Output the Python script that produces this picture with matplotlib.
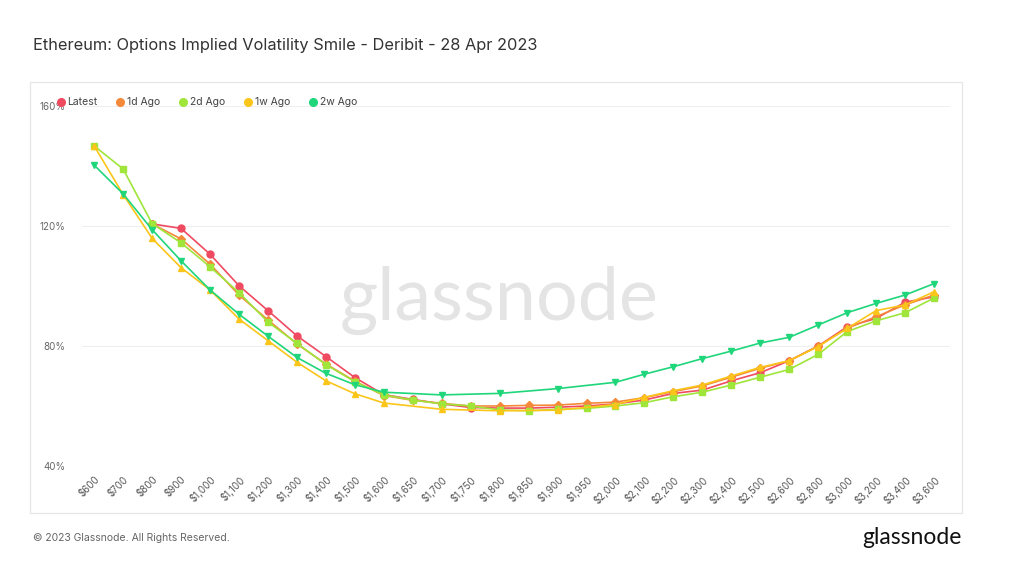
import matplotlib.pyplot as plt
import numpy as np
from matplotlib.lines import Line2D
from matplotlib.patches import Rectangle

plt.rcParams["font.family"] = ["Inter", "DejaVu Sans"]

strikes = ["$600", "$700", "$800", "$900", "$1,000", "$1,100", "$1,200", "$1,300",
           "$1,400", "$1,500", "$1,600", "$1,650", "$1,700", "$1,750", "$1,800",
           "$1,850", "$1,900", "$1,950", "$2,000", "$2,100", "$2,200", "$2,300",
           "$2,400", "$2,500", "$2,600", "$2,800", "$3,000", "$3,200", "$3,400", "$3,600"]

latest = [None, None, 120.7, 119.2, 110.6, 100.1, 91.8, 83.4, 76.5, 69.5, 63.8,
          62.2, 60.7, 59.5, 59.3, 59.3, 59.6, 60.0, 60.7, 62.0, 64.2, 65.3, 68.4,
          71.1, 75.1, 80.0, 86.4, 89.2, 94.6, 96.4]
ago_1d = [None, None, 120.7, 115.7, 107.3, 97.0, 88.7, 80.7, 74.0, 68.3, 63.5,
          61.9, 60.9, 60.0, 60.0, 60.2, 60.3, 60.9, 61.3, 62.8, 64.8, 66.7, 69.6,
          72.6, 75.1, 80.0, 85.9, 89.8, 93.7, 97.0]
ago_2d = [146.7, 139.0, 120.8, 114.4, 106.4, 97.8, 88.0, 80.9, 73.8, 68.1, 63.7,
          62.0, 60.7, 60.0, 58.7, 58.4, 58.9, 59.2, 60.0, 61.1, 63.1, 64.6, 67.0,
          69.6, 72.2, 77.2, 84.8, 88.4, 91.1, 96.0]
ago_1w = [146.7, 130.5, 115.9, 106.1, 98.7, 89.0, 81.8, 74.6, 68.4, 64.1, 61.0,
          None, 58.9, None, 58.4, None, 58.6, None, 60.5, 62.9, 65.1, 67.0, 70.0,
          72.9, 75.1, 79.8, 85.9, 91.8, 93.7, 98.1]
ago_2w = [140.3, 130.7, 118.8, 108.4, 98.7, 90.6, 83.3, 76.2, 70.9, 67.1, 64.6,
          None, 63.7, None, 64.2, None, 65.8, None, 67.9, 70.6, 73.1, 75.8, 78.3,
          81.0, 82.9, 87.0, 91.1, 94.2, 97.0, 100.8]

series = [
    ("Latest", latest, "#ef4a60", "o"),
    ("1d Ago", ago_1d, "#f5893a", "D"),
    ("2d Ago", ago_2d, "#9fe53a", "s"),
    ("1w Ago", ago_1w, "#fbc51a", "^"),
    ("2w Ago", ago_2w, "#1fd67b", "v"),
]

W, H = 1024, 570
fig = plt.figure(figsize=(W / 100, H / 100), dpi=100, facecolor="white")

# panel frame behind the plot
fig.patches.append(Rectangle((30 / W, 1 - 513 / H), 932 / W, 431 / H,
                             transform=fig.transFigure, facecolor="white",
                             edgecolor="#e6e6e6", lw=0.9, zorder=-1))

ax = fig.add_axes([82 / W, 1 - 466 / H, 868 / W, 360 / H])
ax.set_zorder(2)
ax.set_facecolor("none")
for s in ax.spines.values():
    s.set_visible(False)

x = np.arange(len(strikes))
for i, (name, vals, color, marker) in enumerate(series):
    y = np.array([np.nan if v is None else v for v in vals], dtype=float)
    m = ~np.isnan(y)
    ms = 4.2 if marker == "D" else 5
    ax.plot(x[m], y[m], color=color, lw=1.2, marker=marker, ms=ms,
            clip_on=False, zorder=3 + i)

ax.set_xlim(-0.42, len(strikes) - 1 + 0.55)
ax.set_ylim(40, 160)
ax.set_yticks([40, 80, 120, 160])
ax.set_yticklabels(["40%", "80%", "120%", "160%"])
ax.grid(axis="y", color="#efefef", lw=0.8)
ax.set_axisbelow(True)
ax.tick_params(axis="y", length=0, pad=12, labelsize=7, labelcolor="#666666")
ax.set_xticks(x)
ax.set_xticklabels(strikes, rotation=45, ha="right", va="top",
                   rotation_mode="anchor")
ax.tick_params(axis="x", length=0, pad=6, labelsize=7, labelcolor="#555555")

ax.text(0.481, 0.46, "glassnode", transform=ax.transAxes, ha="center",
        va="center", fontsize=53, color="#e4e4e4", family=["Lato", "DejaVu Sans"],
        zorder=1)

handles = [Line2D([], [], color=c, marker="o", ls="none", ms=5.5)
           for _, _, c, _ in series]
fig.legend(handles, [s[0] for s in series], loc="upper left",
           bbox_to_anchor=(48 / W, 1 - 88 / H), ncol=5, frameon=False,
           fontsize=7.5, handlelength=0.6, handletextpad=0.3,
           columnspacing=1.95, labelcolor="#444444")

fig.text(33 / W, 1 - 50 / H, "Ethereum: Options Implied Volatility Smile - Deribit - 28 Apr 2023",
         fontsize=11.8, color="#333333", va="baseline")
fig.text(33 / W, 1 - 538 / H, "\u00a9 2023 Glassnode. All Rights Reserved.",
         fontsize=7.5, color="#666666", va="center")
fig.text(962 / W, 1 - 538 / H, "glassnode", fontsize=16.5, color="#111111",
         ha="right", va="center", family=["Lato", "DejaVu Sans"])

fig.savefig("out.png", dpi=100, facecolor="white")
